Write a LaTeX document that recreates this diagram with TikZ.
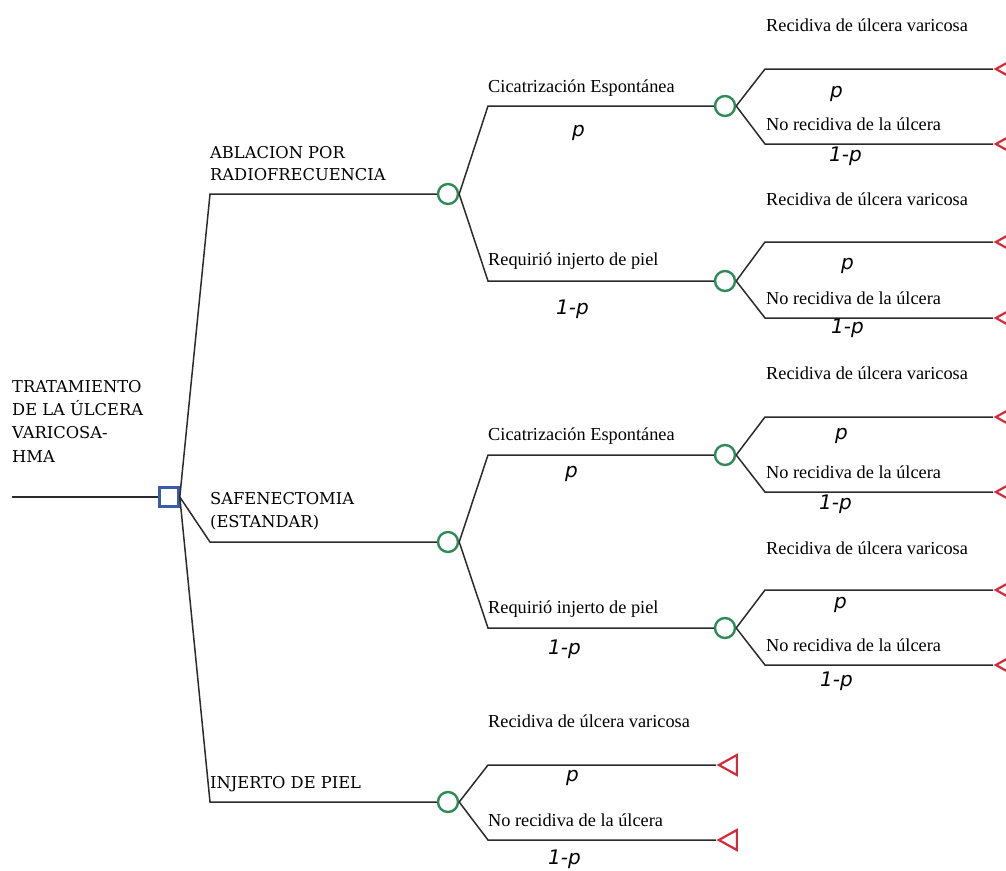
\documentclass[tikz,border=0pt]{standalone}
\usepackage{fontspec}
\usetikzlibrary{shapes.geometric}
\setmainfont{Liberation Serif}
\newfontfamily\capsfont{DejaVu Serif}
\newfontfamily\probfont{DejaVu Sans}
\definecolor{decblue}{HTML}{3A5DA8}
\definecolor{chgreen}{HTML}{2E8B57}
\definecolor{termred}{HTML}{D42A3A}
\definecolor{linegray}{HTML}{2B2B2B}
\tikzset{
  decision/.style={draw=decblue, line width=2.6pt, rectangle, minimum size=19pt, inner sep=0pt},
  chance/.style={draw=chgreen, line width=2.4pt, circle, minimum size=20pt, inner sep=0pt},
  terminal/.style={draw=termred, line width=2.2pt, isosceles triangle, isosceles triangle stretches,
     shape border rotate=180, minimum width=20pt, minimum height=18pt, inner sep=0pt, anchor=apex},
  conn/.style={draw=linegray, line width=1.5pt},
  capslbl/.style={font=\capsfont\fontsize{16.3}{23}\selectfont, anchor=base west, inner sep=0pt, text=black},
  evlbl/.style={font=\fontsize{18.3}{21}\selectfont, anchor=base west, inner sep=0pt, text=black},
  problbl/.style={font=\probfont\itshape\fontsize{20}{22}\selectfont, anchor=base west, inner sep=0pt, text=black}
}
\begin{document}
\begin{tikzpicture}[x=1pt,y=-1pt]
\useasboundingbox (0,0) rectangle (1006,870);
\clip (0,0) rectangle (1006,870);
% nodes
\node[decision] (D) at (169,497) {};
\coordinate (R0) at (12,497);
\node[chance] (C1) at (448,194) {};
\node[chance] (C2) at (448,542) {};
\node[chance] (C3) at (448,802) {};
\node[chance] (C11) at (725,106) {};
\node[chance] (C12) at (725,281) {};
\node[chance] (C21) at (725,455) {};
\node[chance] (C22) at (725,628) {};
% terminals
\node[terminal] (T111) at (993,69) {};
\node[terminal] (T112) at (993,144) {};
\node[terminal] (T121) at (993,242) {};
\node[terminal] (T122) at (993,318) {};
\node[terminal] (T211) at (993,417) {};
\node[terminal] (T212) at (993,492) {};
\node[terminal] (T221) at (993,590) {};
\node[terminal] (T222) at (993,665) {};
\node[terminal] (T31) at (716,765) {};
\node[terminal] (T32) at (716,840) {};
% bends
\coordinate (B1) at (210,194);
\coordinate (B2) at (210,542);
\coordinate (B3) at (210,802);
\coordinate (B11) at (488,106);
\coordinate (B12) at (488,281);
\coordinate (B21) at (488,455);
\coordinate (B22) at (488,628);
\coordinate (B31) at (488,765);
\coordinate (B32) at (488,840);
\coordinate (B111) at (765,69);
\coordinate (B112) at (765,144);
\coordinate (B121) at (765,242);
\coordinate (B122) at (765,318);
\coordinate (B211) at (765,417);
\coordinate (B212) at (765,492);
\coordinate (B221) at (765,590);
\coordinate (B222) at (765,665);
% connectors
\draw[conn] (R0) -- (D.west);
\draw[conn] (D.east) -- (B1) -- (C1.west);
\draw[conn] (D.east) -- (B2) -- (C2.west);
\draw[conn] (D.east) -- (B3) -- (C3.west);
\draw[conn] (C1.east) -- (B11) -- (C11.west);
\draw[conn] (C1.east) -- (B12) -- (C12.west);
\draw[conn] (C2.east) -- (B21) -- (C21.west);
\draw[conn] (C2.east) -- (B22) -- (C22.west);
\draw[conn] (C3.east) -- (B31) -- (T31.apex);
\draw[conn] (C3.east) -- (B32) -- (T32.apex);
\draw[conn] (C11.east) -- (B111) -- (T111.apex);
\draw[conn] (C11.east) -- (B112) -- (T112.apex);
\draw[conn] (C12.east) -- (B121) -- (T121.apex);
\draw[conn] (C12.east) -- (B122) -- (T122.apex);
\draw[conn] (C21.east) -- (B211) -- (T211.apex);
\draw[conn] (C21.east) -- (B212) -- (T212.apex);
\draw[conn] (C22.east) -- (B221) -- (T221.apex);
\draw[conn] (C22.east) -- (B222) -- (T222.apex);
% root label
\node[capslbl] (L0a) at (12,392) {TRATAMIENTO};
\node[capslbl] (L0b) at (12,415) {DE LA ÚLCERA};
\node[capslbl] (L0c) at (12,438) {VARICOSA-};
\node[capslbl] (L0d) at (12,462) {HMA};
% first level labels
\node[capslbl] (L1a) at (210,158) {ABLACION POR};
\node[capslbl] (L1b) at (210,180) {RADIOFRECUENCIA};
\node[capslbl] (L2a) at (210,504) {SAFENECTOMIA};
\node[capslbl] (L2b) at (210,527) {(ESTANDAR)};
\node[capslbl] (L3) at (210,788) {INJERTO DE PIEL};
% second level labels
\node[evlbl] (E11) at (488,92) {Cicatrización Espontánea};
\node[problbl] (P11) at (572,136) {p};
\node[evlbl] (E12) at (488,265) {Requirió injerto de piel};
\node[problbl] (P12) at (556,314) {1-p};
\node[evlbl] (E21) at (488,440) {Cicatrización Espontánea};
\node[problbl] (P21) at (565,477) {p};
\node[evlbl] (E22) at (488,613) {Requirió injerto de piel};
\node[problbl] (P22) at (548,654) {1-p};
\node[evlbl] (E31) at (488,727) {Recidiva de úlcera varicosa};
\node[problbl] (P31) at (566,781) {p};
\node[evlbl] (E32) at (488,826) {No recidiva de la úlcera};
\node[problbl] (P32) at (548,864) {1-p};
% third level labels
\node[evlbl] (E111) at (766,31) {Recidiva de úlcera varicosa};
\node[problbl] (P111) at (830,97) {p};
\node[evlbl] (E112) at (766,130) {No recidiva de la úlcera};
\node[problbl] (P112) at (829,161) {1-p};
\node[evlbl] (E121) at (766,205) {Recidiva de úlcera varicosa};
\node[problbl] (P121) at (841,269) {p};
\node[evlbl] (E122) at (766,304) {No recidiva de la úlcera};
\node[problbl] (P122) at (831,333) {1-p};
\node[evlbl] (E211) at (766,379) {Recidiva de úlcera varicosa};
\node[problbl] (P211) at (835,439) {p};
\node[evlbl] (E212) at (766,478) {No recidiva de la úlcera};
\node[problbl] (P212) at (819,509) {1-p};
\node[evlbl] (E221) at (766,554) {Recidiva de úlcera varicosa};
\node[problbl] (P221) at (834,608) {p};
\node[evlbl] (E222) at (766,651) {No recidiva de la úlcera};
\node[problbl] (P222) at (820,686) {1-p};
\end{tikzpicture}
\end{document}
